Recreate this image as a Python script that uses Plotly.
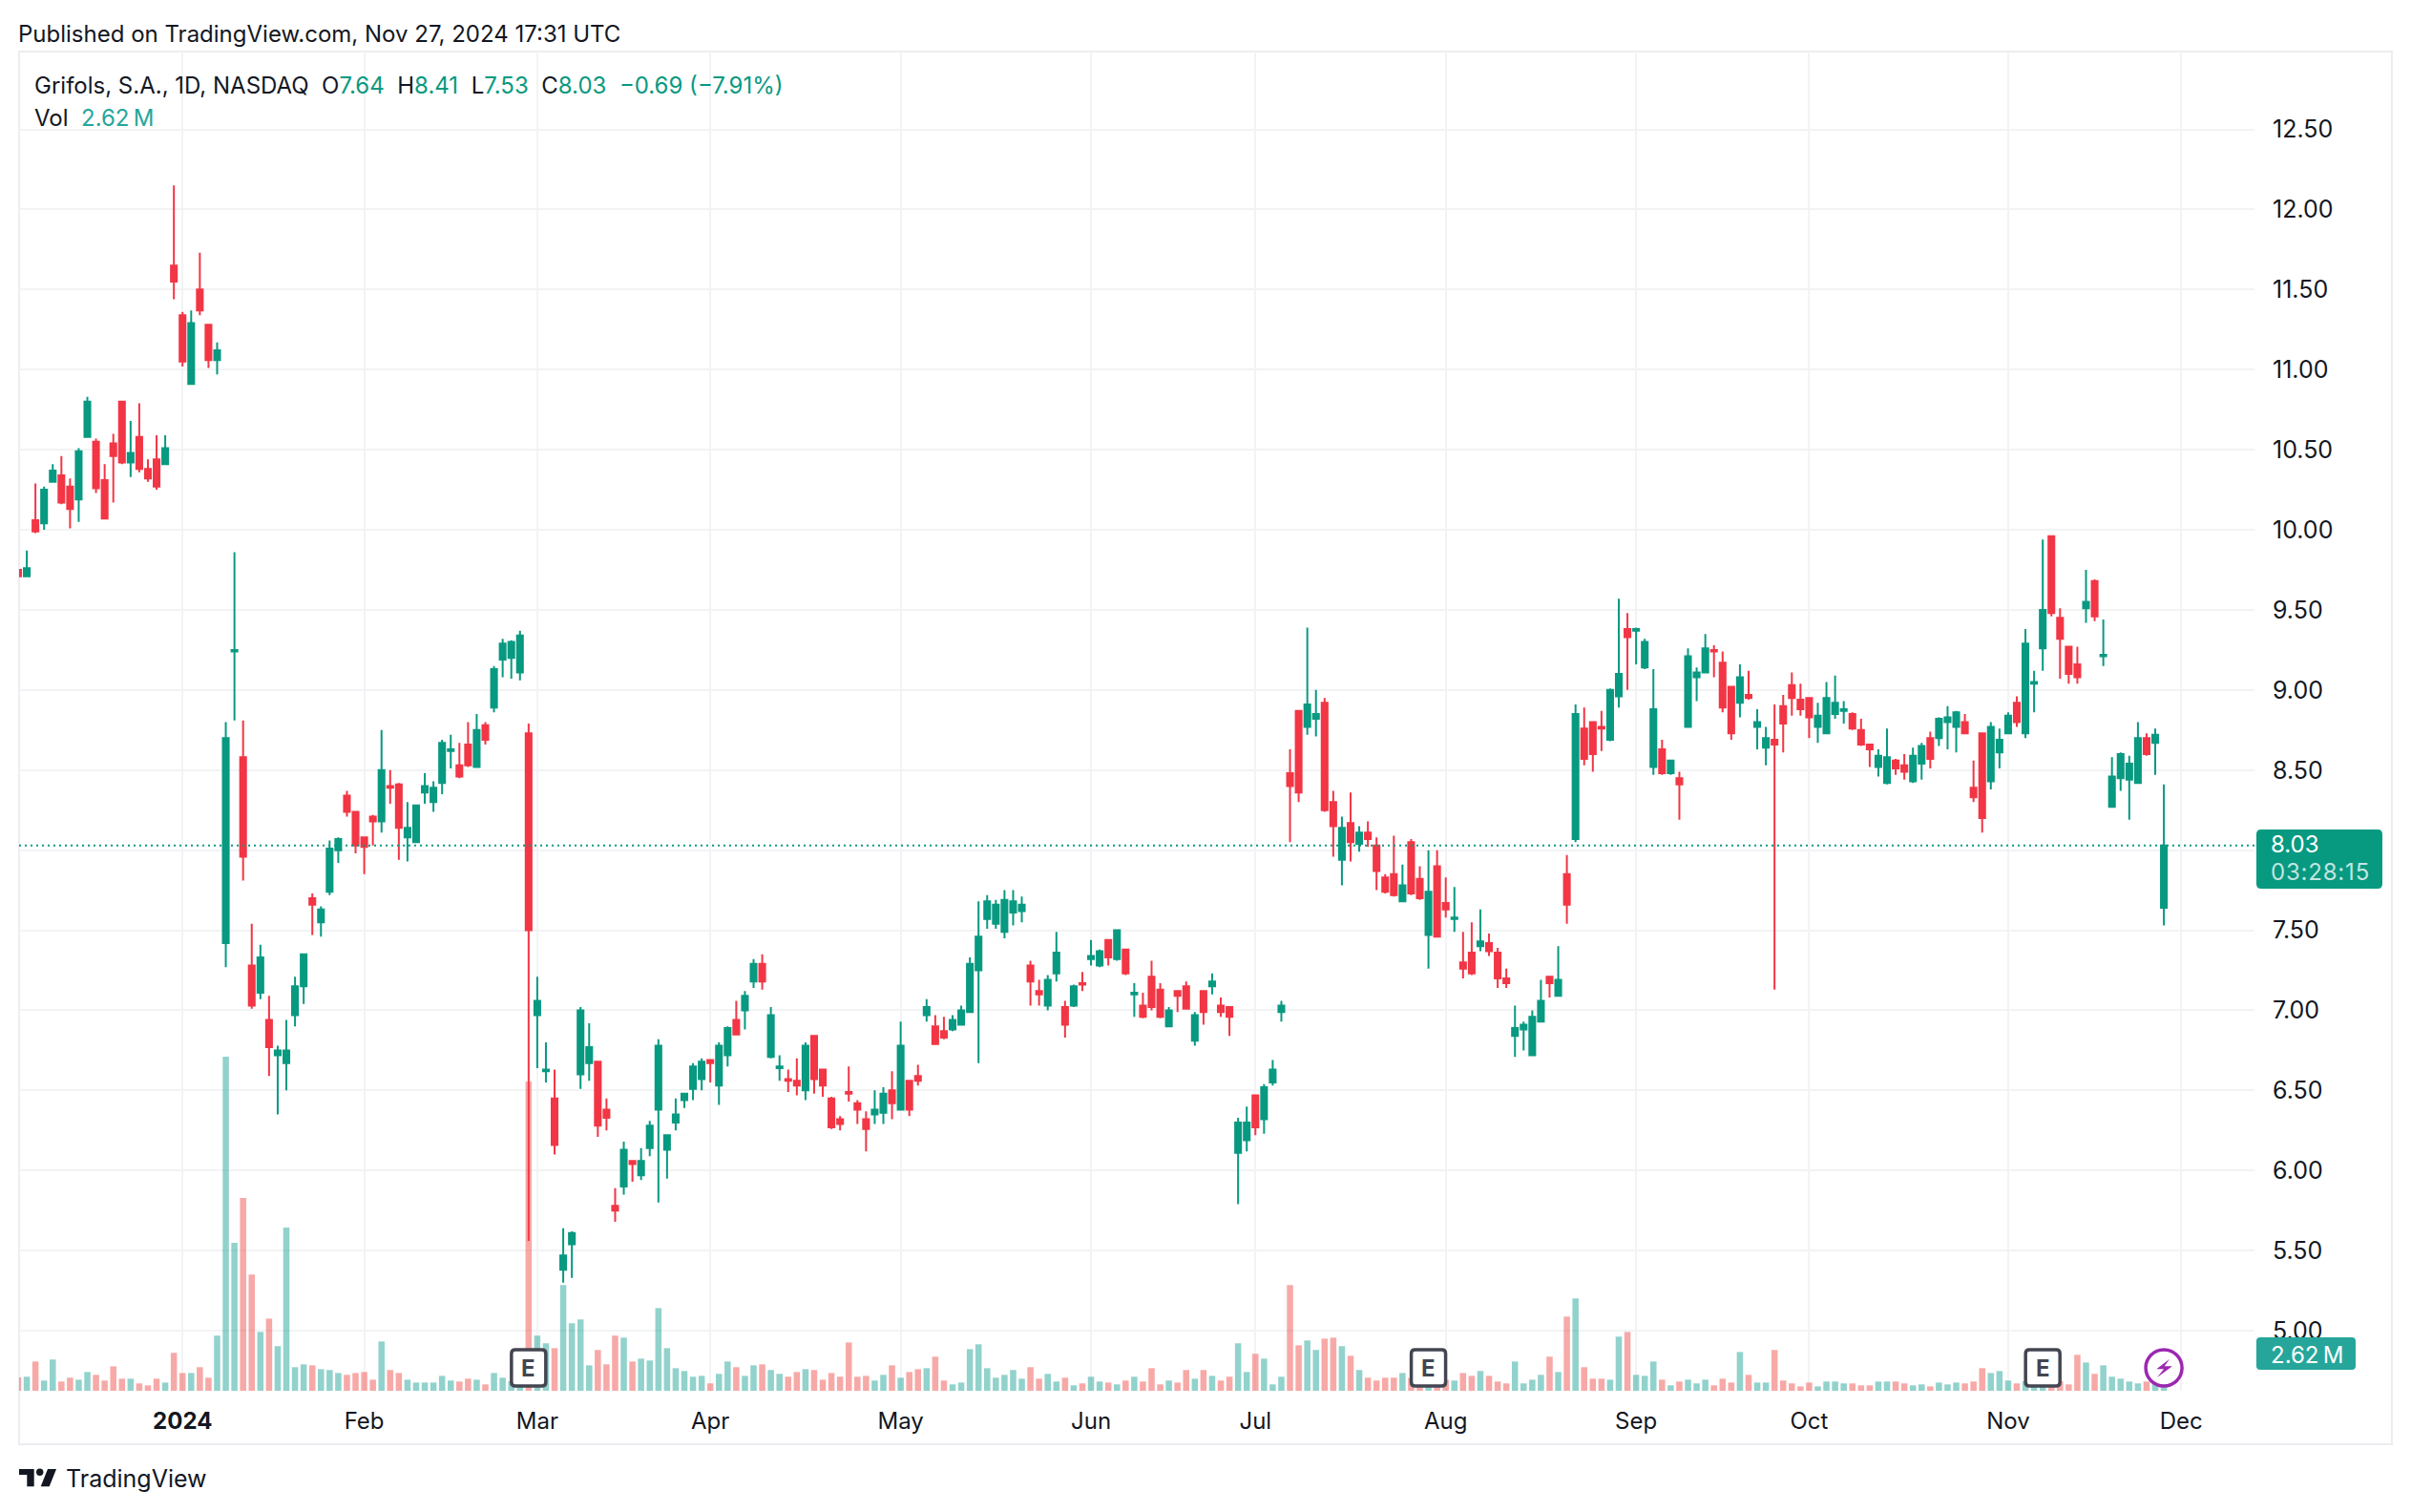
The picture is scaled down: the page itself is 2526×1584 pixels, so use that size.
import plotly.graph_objects as go

# daily OHLC, trading day index 0..248
opens = [
    9.75, 9.71, 10.06, 10.04, 10.30, 10.34, 10.27, 10.19, 10.58, 10.55,
    10.31, 10.54, 10.80, 10.42, 10.58, 10.38, 10.44, 10.41, 11.65, 11.34,
    10.91, 11.50, 11.28, 11.06, 7.42, 9.24, 8.58, 7.28, 7.11, 6.94,
    6.72, 6.67, 6.97, 7.15, 7.70, 7.55, 7.74, 8.00, 8.34, 8.24,
    8.08, 8.21, 8.18, 8.40, 8.41, 8.08, 8.05, 8.36, 8.30, 8.42,
    8.62, 8.53, 8.66, 8.52, 8.78, 8.89, 9.19, 9.20, 9.11, 8.73,
    6.97, 6.62, 6.45, 5.38, 5.54, 6.60, 6.67, 6.68, 6.38, 5.78,
    5.90, 6.06, 5.97, 6.14, 6.38, 6.13, 6.30, 6.44, 6.51, 6.57,
    6.69, 6.53, 6.72, 6.94, 7.00, 7.18, 7.29, 6.71, 6.64, 6.57,
    6.56, 6.50, 6.84, 6.63, 6.45, 6.32, 6.49, 6.42, 6.32, 6.35,
    6.36, 6.50, 6.38, 6.56, 6.59, 6.97, 6.90, 6.87, 6.88, 6.91,
    6.99, 7.25, 7.57, 7.54, 7.49, 7.61, 7.62, 7.28, 7.12, 7.03,
    7.23, 7.02, 7.03, 7.17, 7.32, 7.28, 7.44, 7.32, 7.38, 7.10,
    7.03, 7.21, 7.13, 6.90, 7.12, 7.15, 6.81, 7.12, 7.15, 7.03,
    7.02, 6.11, 6.19, 6.47, 6.32, 6.55, 6.99, 8.48, 8.87, 8.77,
    8.82, 8.92, 8.30, 7.94, 8.17, 8.04, 8.11, 8.03, 7.83, 7.85,
    7.68, 8.05, 7.82, 7.47, 7.90, 7.67, 7.57, 7.30, 7.36, 7.40,
    7.42, 7.36, 7.20, 6.84, 6.88, 6.72, 6.93, 7.21, 7.09, 7.85,
    8.07, 8.76, 8.80, 8.77, 8.69, 8.96, 9.38, 9.37, 9.14, 8.52,
    8.63, 8.48, 8.45, 8.77, 9.08, 9.11, 9.25, 9.17, 9.02, 8.92,
    8.97, 8.77, 8.64, 8.69, 8.90, 9.03, 8.94, 8.95, 8.77, 8.73,
    8.85, 8.87, 8.85, 8.75, 8.66, 8.52, 8.42, 8.56, 8.53, 8.43,
    8.54, 8.70, 8.70, 8.80, 8.77, 8.80, 8.39, 8.73, 8.43, 8.61,
    8.73, 8.92, 8.73, 9.04, 9.26, 9.96, 9.45, 9.27, 9.16, 9.51,
    9.68, 9.21, 8.27, 8.45, 8.44, 8.42, 8.70, 8.67, 7.64,
]
highs = [
    9.75, 9.87, 10.29, 10.27, 10.41, 10.46, 10.32, 10.51, 10.83, 10.57,
    10.41, 10.60, 10.80, 10.68, 10.79, 10.44, 10.59, 10.59, 12.15, 11.36,
    11.37, 11.73, 11.28, 11.17, 8.80, 9.86, 8.81, 7.54, 7.41, 7.09,
    6.78, 6.94, 7.21, 7.35, 7.73, 7.65, 8.06, 8.08, 8.37, 8.24,
    8.08, 8.22, 8.75, 8.50, 8.42, 8.30, 8.28, 8.48, 8.43, 8.69,
    8.72, 8.67, 8.80, 8.85, 8.80, 9.15, 9.32, 9.31, 9.37, 8.79,
    7.21, 6.80, 6.63, 5.64, 5.62, 7.02, 6.92, 6.68, 6.45, 5.89,
    6.18, 6.06, 6.14, 6.31, 6.82, 6.22, 6.45, 6.48, 6.67, 6.70,
    6.69, 6.80, 6.90, 7.06, 7.12, 7.32, 7.35, 7.02, 6.72, 6.63,
    6.70, 6.80, 6.84, 6.63, 6.46, 6.34, 6.65, 6.44, 6.37, 6.50,
    6.52, 6.62, 6.93, 6.56, 6.66, 7.07, 6.97, 6.96, 6.97, 7.03,
    7.33, 7.68, 7.72, 7.69, 7.75, 7.75, 7.71, 7.31, 7.19, 7.22,
    7.49, 7.06, 7.16, 7.24, 7.44, 7.38, 7.44, 7.50, 7.38, 7.17,
    7.11, 7.31, 7.17, 7.02, 7.12, 7.18, 6.99, 7.12, 7.23, 7.08,
    7.02, 6.33, 6.40, 6.47, 6.54, 6.69, 7.06, 8.63, 8.87, 9.39,
    9.00, 8.95, 8.37, 8.21, 8.36, 8.15, 8.18, 8.08, 7.85, 8.09,
    7.91, 8.07, 7.90, 8.00, 8.00, 7.83, 7.77, 7.49, 7.55, 7.63,
    7.48, 7.39, 7.26, 7.03, 6.93, 7.00, 7.19, 7.21, 7.40, 7.97,
    8.91, 8.89, 8.80, 8.87, 9.01, 9.57, 9.48, 9.39, 9.32, 9.13,
    8.69, 8.56, 8.49, 9.26, 9.14, 9.35, 9.28, 9.24, 9.02, 9.16,
    9.12, 8.88, 8.77, 8.91, 8.97, 9.11, 9.04, 8.95, 8.92, 9.05,
    9.09, 8.93, 8.86, 8.82, 8.66, 8.63, 8.76, 8.57, 8.60, 8.64,
    8.67, 8.74, 8.83, 8.90, 8.87, 8.85, 8.56, 8.73, 8.80, 8.76,
    8.86, 8.96, 9.38, 9.12, 9.94, 9.96, 9.51, 9.27, 9.27, 9.75,
    9.69, 9.44, 8.58, 8.61, 8.59, 8.80, 8.73, 8.76, 8.41,
]
lows = [
    9.70, 9.71, 9.98, 10.00, 10.30, 10.16, 10.01, 10.05, 10.58, 10.23,
    10.07, 10.17, 10.41, 10.33, 10.36, 10.30, 10.25, 10.41, 11.44, 11.02,
    10.91, 11.34, 11.01, 10.97, 7.27, 8.81, 7.81, 7.01, 7.07, 6.59,
    6.35, 6.50, 6.90, 7.04, 7.47, 7.46, 7.72, 7.92, 8.21, 7.98,
    7.85, 8.03, 8.11, 8.29, 7.94, 7.93, 8.05, 8.29, 8.24, 8.35,
    8.51, 8.45, 8.52, 8.52, 8.66, 8.86, 9.08, 9.07, 9.06, 5.56,
    6.64, 6.55, 6.10, 5.30, 5.33, 6.51, 6.56, 6.21, 6.25, 5.68,
    5.85, 5.93, 5.94, 6.09, 5.80, 5.95, 6.25, 6.39, 6.44, 6.50,
    6.55, 6.41, 6.65, 6.85, 6.88, 7.14, 7.13, 6.70, 6.56, 6.49,
    6.47, 6.44, 6.48, 6.46, 6.26, 6.25, 6.43, 6.29, 6.12, 6.29,
    6.29, 6.32, 6.38, 6.34, 6.53, 6.93, 6.79, 6.82, 6.87, 6.91,
    6.99, 6.67, 7.51, 7.51, 7.45, 7.53, 7.55, 7.03, 7.03, 7.00,
    7.18, 6.83, 7.02, 7.12, 7.28, 7.27, 7.28, 7.31, 7.22, 6.96,
    6.95, 7.00, 6.95, 6.90, 6.99, 7.01, 6.78, 6.91, 7.10, 6.96,
    6.84, 5.79, 6.12, 6.22, 6.23, 6.53, 6.93, 8.05, 8.30, 8.72,
    8.71, 8.24, 7.96, 7.78, 7.93, 7.99, 8.02, 7.75, 7.73, 7.71,
    7.68, 7.72, 7.69, 7.26, 7.46, 7.58, 7.49, 7.20, 7.22, 7.37,
    7.34, 7.14, 7.14, 6.71, 6.75, 6.72, 6.93, 7.08, 7.09, 7.54,
    8.05, 8.53, 8.49, 8.62, 8.68, 8.89, 9.00, 9.16, 9.13, 8.47,
    8.47, 8.47, 8.19, 8.77, 8.93, 9.11, 9.08, 8.86, 8.69, 8.83,
    8.94, 8.63, 8.53, 7.13, 8.61, 8.84, 8.84, 8.70, 8.67, 8.73,
    8.82, 8.79, 8.75, 8.65, 8.52, 8.46, 8.41, 8.47, 8.44, 8.42,
    8.44, 8.51, 8.65, 8.63, 8.61, 8.73, 8.30, 8.11, 8.38, 8.51,
    8.73, 8.77, 8.70, 8.86, 9.12, 9.46, 9.07, 9.04, 9.04, 9.42,
    9.43, 9.15, 8.27, 8.37, 8.19, 8.42, 8.59, 8.47, 7.53,
]
closes = [
    9.71, 9.76, 9.99, 10.25, 10.37, 10.17, 10.13, 10.49, 10.80, 10.26,
    10.07, 10.46, 10.42, 10.48, 10.38, 10.32, 10.27, 10.51, 11.55, 11.05,
    11.29, 11.37, 11.06, 11.12, 8.70, 9.25, 7.96, 7.03, 7.33, 6.77,
    6.75, 6.75, 7.15, 7.35, 7.66, 7.63, 8.01, 8.07, 8.24, 8.03,
    8.02, 8.18, 8.50, 8.39, 8.14, 8.14, 8.28, 8.40, 8.39, 8.67,
    8.63, 8.46, 8.53, 8.75, 8.69, 9.13, 9.29, 9.30, 9.34, 7.50,
    7.06, 6.63, 6.16, 5.47, 5.61, 7.00, 6.77, 6.28, 6.33, 5.75,
    6.13, 6.04, 6.06, 6.28, 6.78, 6.22, 6.35, 6.48, 6.65, 6.68,
    6.67, 6.78, 6.89, 6.85, 7.09, 7.29, 7.18, 6.97, 6.65, 6.56,
    6.53, 6.78, 6.57, 6.53, 6.27, 6.29, 6.48, 6.38, 6.26, 6.38,
    6.48, 6.42, 6.78, 6.38, 6.56, 7.02, 6.79, 6.83, 6.94, 7.00,
    7.29, 7.46, 7.68, 7.66, 7.69, 7.68, 7.66, 7.18, 7.10, 7.19,
    7.36, 6.91, 7.15, 7.16, 7.34, 7.37, 7.33, 7.50, 7.23, 7.11,
    6.96, 7.02, 6.96, 7.00, 7.09, 7.01, 6.97, 6.99, 7.18, 6.99,
    6.96, 6.30, 6.30, 6.27, 6.52, 6.63, 7.03, 8.40, 8.36, 8.91,
    8.85, 8.25, 8.15, 8.14, 8.05, 8.11, 8.07, 7.87, 7.74, 7.72,
    7.78, 7.73, 7.70, 7.74, 7.46, 7.63, 7.58, 7.26, 7.23, 7.43,
    7.37, 7.20, 7.17, 6.89, 6.91, 6.96, 7.06, 7.17, 7.19, 7.66,
    8.85, 8.57, 8.60, 8.76, 9.00, 9.10, 9.33, 9.38, 9.30, 8.88,
    8.48, 8.56, 8.41, 9.21, 9.11, 9.26, 9.24, 8.89, 8.73, 9.08,
    8.95, 8.80, 8.70, 8.66, 8.79, 8.95, 8.88, 8.83, 8.84, 8.95,
    8.92, 8.88, 8.76, 8.66, 8.63, 8.59, 8.58, 8.51, 8.49, 8.59,
    8.65, 8.57, 8.82, 8.83, 8.86, 8.73, 8.33, 8.20, 8.77, 8.69,
    8.84, 8.80, 9.29, 9.05, 9.50, 9.48, 9.32, 9.10, 9.08, 9.55,
    9.46, 9.22, 8.46, 8.60, 8.54, 8.70, 8.60, 8.72, 8.03,
]
# volume in millions of shares
volumes = [
    0.94, 0.99, 2.06, 0.72, 2.20, 0.65, 0.92, 0.78, 1.32, 1.12,
    0.72, 1.72, 0.85, 0.85, 0.52, 0.38, 0.85, 0.58, 2.67, 1.25,
    1.25, 1.66, 0.92, 3.88, 23.52, 10.42, 13.57, 8.18, 4.14, 5.08,
    3.14, 11.49, 1.66, 1.86, 1.79, 1.52, 1.46, 1.25, 1.12, 1.25,
    1.32, 0.78, 3.47, 1.46, 1.25, 0.78, 0.58, 0.58, 0.58, 1.05,
    0.72, 0.65, 0.85, 0.78, 0.45, 1.25, 0.92, 0.67, 0.67, 21.77,
    3.88, 3.34, 3.00, 7.44, 4.75, 5.02, 1.79, 2.87, 1.86, 3.88,
    3.74, 2.06, 2.26, 2.13, 5.82, 3.00, 1.59, 1.39, 0.99, 1.05,
    0.52, 1.19, 2.06, 1.66, 1.05, 1.79, 1.86, 1.46, 1.19, 0.99,
    1.32, 1.52, 1.46, 0.78, 1.25, 0.99, 3.40, 0.99, 1.05, 0.72,
    1.12, 1.79, 0.92, 1.32, 1.52, 1.59, 2.40, 0.72, 0.45, 0.58,
    2.93, 3.27, 1.59, 0.92, 1.12, 1.46, 0.85, 1.66, 0.85, 1.19,
    0.65, 0.92, 0.38, 0.52, 0.99, 0.65, 0.58, 0.45, 0.72, 0.99,
    0.65, 1.59, 0.45, 0.72, 0.58, 1.46, 0.85, 1.46, 1.05, 0.72,
    0.99, 3.34, 1.32, 2.60, 2.26, 0.45, 0.99, 7.44, 3.20, 3.54,
    2.87, 3.67, 3.74, 3.14, 2.46, 1.46, 0.92, 0.72, 0.92, 0.92,
    1.25, 0.90, 0.67, 0.67, 0.67, 0.78, 0.72, 1.25, 1.05, 1.39,
    1.05, 0.65, 0.52, 2.06, 0.52, 0.78, 1.12, 2.40, 1.32, 5.22,
    6.50, 1.66, 0.85, 0.85, 0.78, 3.81, 4.14, 1.12, 1.05, 2.06,
    0.78, 0.38, 0.65, 0.78, 0.52, 0.78, 0.38, 0.85, 0.58, 2.73,
    1.12, 0.58, 0.58, 2.87, 0.72, 0.52, 0.31, 0.58, 0.31, 0.65,
    0.65, 0.52, 0.52, 0.38, 0.38, 0.65, 0.65, 0.65, 0.52, 0.38,
    0.45, 0.31, 0.58, 0.45, 0.58, 0.52, 0.65, 1.59, 1.25, 1.39,
    0.72, 0.52, 0.67, 0.56, 0.67, 0.78, 0.67, 0.45, 2.53, 1.99,
    1.19, 1.79, 0.99, 0.85, 0.65, 0.52, 0.65, 0.56, 2.62,
]

month_ticks = [19, 40, 60, 80, 102, 124, 143, 165, 187, 207, 230, 250]
month_labels = ["<b>2024</b>", "Feb", "Mar", "Apr", "May", "Jun", "Jul", "Aug", "Sep", "Oct", "Nov", "Dec"]
price_ticks = [5.0, 5.5, 6.0, 6.5, 7.0, 7.5, 8.0, 8.5, 9.0, 9.5, 10.0, 10.5, 11.0, 11.5, 12.0, 12.5]
# 8.00 is hidden behind the last price tag
price_labels = ["5.00", "5.50", "6.00", "6.50", "7.00", "7.50", "", "8.50", "9.00", "9.50", "10.00", "10.50",
                "11.00", "11.50", "12.00", "12.50"]
earnings_days = [59, 163, 234]
news_day = 248

GREEN = "#089981"
RED = "#F23645"
VOL_GREEN = "rgba(38,166,154,0.5)"
VOL_RED = "rgba(239,83,80,0.5)"
INK = "#131722"
GRID = "#F2F3F5"
FONT = "Inter"

# pane edges in page pixels
W, H = 2526, 1584
LEFT, RIGHT, TOP, BOTTOM = 20, 2362, 54, 1457


def px(x):
    return (x - LEFT) / (RIGHT - LEFT)


def py(y):
    return (BOTTOM - y) / (BOTTOM - TOP)


def label(x, y, text, size=24, color=INK, anchor="left", **kw):
    return dict(
        x=px(x), y=py(y), xref="paper", yref="paper", text=text, showarrow=False,
        xanchor=anchor, yanchor="middle", align="left",
        font=dict(family=FONT, size=size, color=color), **kw,
    )


def round_box(x0, y0, x1, y1, r):
    p = lambda a, b: f"{px(a):.6f},{py(b):.6f}"
    return (
        f"M {p(x0 + r, y0)} L {p(x1 - r, y0)} Q {p(x1, y0)} {p(x1, y0 + r)} "
        f"L {p(x1, y1 - r)} Q {p(x1, y1)} {p(x1 - r, y1)} L {p(x0 + r, y1)} "
        f"Q {p(x0, y1)} {p(x0, y1 - r)} L {p(x0, y0 + r)} Q {p(x0, y0)} {p(x0 + r, y0)} Z"
    )


days = list(range(len(closes)))
vol_colors = [VOL_GREEN if c >= o else VOL_RED for o, c in zip(opens, closes)]

fig = go.Figure()

fig.add_trace(
    go.Bar(x=days, y=volumes, marker=dict(color=vol_colors, line_width=0), width=0.72, yaxis="y", hoverinfo="skip")
)
fig.add_trace(
    go.Candlestick(
        x=days,
        open=opens,
        high=highs,
        low=lows,
        close=closes,
        yaxis="y2",
        whiskerwidth=0,
        increasing=dict(line=dict(color=GREEN, width=2), fillcolor=GREEN),
        decreasing=dict(line=dict(color=RED, width=2), fillcolor=RED),
    )
)

fig.update_layout(
    width=W,
    height=H,
    margin=dict(l=LEFT, r=W - RIGHT, t=TOP, b=H - BOTTOM, autoexpand=False),
    paper_bgcolor="white",
    plot_bgcolor="white",
    showlegend=False,
    boxgap=0.33,
    boxgroupgap=0,
    font=dict(family=FONT, size=24, color=INK),
    xaxis=dict(
        range=[0.11, 258.47],
        rangeslider_visible=False,
        tickvals=month_ticks,
        ticktext=month_labels,
        tickangle=0,
        showgrid=True,
        gridcolor=GRID,
        gridwidth=2,
        zeroline=False,
        showline=False,
        ticks="",
        ticklabelstandoff=15,
        tickfont=dict(family=FONT, size=24, color=INK),
    ),
    yaxis=dict(range=[0, 94.25], visible=False, showgrid=False, zeroline=False),
    yaxis2=dict(
        range=[4.625, 12.986],
        overlaying="y",
        side="right",
        tickvals=price_ticks,
        ticktext=price_labels,
        showgrid=True,
        gridcolor=GRID,
        gridwidth=2,
        zeroline=False,
        showline=False,
        ticks="",
        ticklabelstandoff=18,
        tickfont=dict(family=FONT, size=25, color=INK),
    ),
)

shapes = [
    # outer frame
    dict(type="rect", xref="paper", yref="paper", x0=px(20), x1=px(2506), y0=py(54), y1=py(1513),
         line=dict(color="#ECEDF0", width=2), fillcolor="rgba(0,0,0,0)", layer="below"),
    # last price line
    dict(type="line", xref="paper", yref="y2", x0=0, x1=1, y0=closes[-1], y1=closes[-1],
         line=dict(color=GREEN, width=2, dash="2px,4px"), layer="above"),
    # price and volume tags
    dict(type="path", xref="paper", yref="paper", path=round_box(2364, 869, 2496, 931, 5),
         fillcolor=GREEN, line_width=0),
    dict(type="path", xref="paper", yref="paper", path=round_box(2364, 1401, 2468, 1435, 4),
         fillcolor="#26A69A", line_width=0),
    # logo
    dict(type="path", xref="paper", yref="paper", fillcolor=INK, line_width=0,
         path="M " + " L ".join(f"{px(a):.6f},{py(b):.6f}" for a, b in
                                [(20, 1539), (35.7, 1539), (35.7, 1557.3), (28.3, 1557.3), (28.3, 1545), (20, 1545)]) + " Z"),
    dict(type="circle", xref="paper", yref="paper", x0=px(38), x1=px(45.4), y0=py(1538.6), y1=py(1546),
         fillcolor=INK, line_width=0),
    dict(type="path", xref="paper", yref="paper", fillcolor=INK, line_width=0,
         path="M " + " L ".join(f"{px(a):.6f},{py(b):.6f}" for a, b in
                                [(50, 1539), (59, 1539), (51.7, 1557.3), (42.7, 1557.3)]) + " Z"),
]

# earnings badges sit just above the volume baseline
badge = "M -14,43 L 14,43 Q 18,43 18,39 L 18,9 Q 18,5 14,5 L -14,5 Q -18,5 -18,9 L -18,39 Q -18,43 -14,43 Z"
for day in earnings_days:
    shapes.append(
        dict(type="path", xref="x", yref="paper", xsizemode="pixel", ysizemode="pixel", xanchor=day, yanchor=0,
             path=badge, fillcolor="white", line=dict(color="#434651", width=3.5), layer="above")
    )

# news marker with bolt
shapes.append(
    dict(type="circle", xref="x", yref="paper", xsizemode="pixel", ysizemode="pixel", xanchor=news_day, yanchor=0,
         x0=-19, x1=19, y0=5, y1=43, fillcolor="white", line=dict(color="#9C27B0", width=3.5), layer="above")
)
shapes.append(
    dict(type="path", xref="x", yref="paper", xsizemode="pixel", ysizemode="pixel", xanchor=news_day, yanchor=0,
         path="M 5.9,33.3 L -7.7,22.7 L 0,22.7 L -7.1,14 L 8.9,25.7 L 0.6,25.7 Z",
         fillcolor="#9C27B0", line_width=0, layer="above")
)
fig.update_layout(shapes=shapes)

n = lambda t: f"<span style='color:{GREEN}'>{t}</span>"
annotations = [
    label(17, 35, "Published on TradingView.com, Nov 27, 2024 17:31 UTC"),
    label(34, 89, f"Grifols, S.A., 1D, NASDAQ  O{n('7.64')}  H{n('8.41')}  L{n('7.53')}  C{n('8.03')}  {n('−0.69 (−7.91%)')}"),
    label(34, 123, "Vol  <span style='color:#26A69A'>2.62\u2009M</span>"),
    label(2378, 884, "8.03", color="white", height=24, borderpad=0),
    label(2378, 913, "<span style='letter-spacing:0.8px'>03:28:15</span>", color="rgba(255,255,255,0.75)", height=24, borderpad=0),
    label(2378, 1419, "2.62\u2009M", color="white", height=24, borderpad=0),
    label(67, 1549, "TradingView", size=25),
]
for day in earnings_days:
    annotations.append(
        dict(x=day, y=0, xref="x", yref="paper", yshift=24, text="<b>E</b>", showarrow=False,
             xanchor="center", yanchor="middle", font=dict(family=FONT, size=24, color="#434651"))
    )
fig.update_layout(annotations=annotations)

fig.write_html(
    "out.html",
    config=dict(displayModeBar=False),
    post_script="document.body.style.margin='0';",
)
